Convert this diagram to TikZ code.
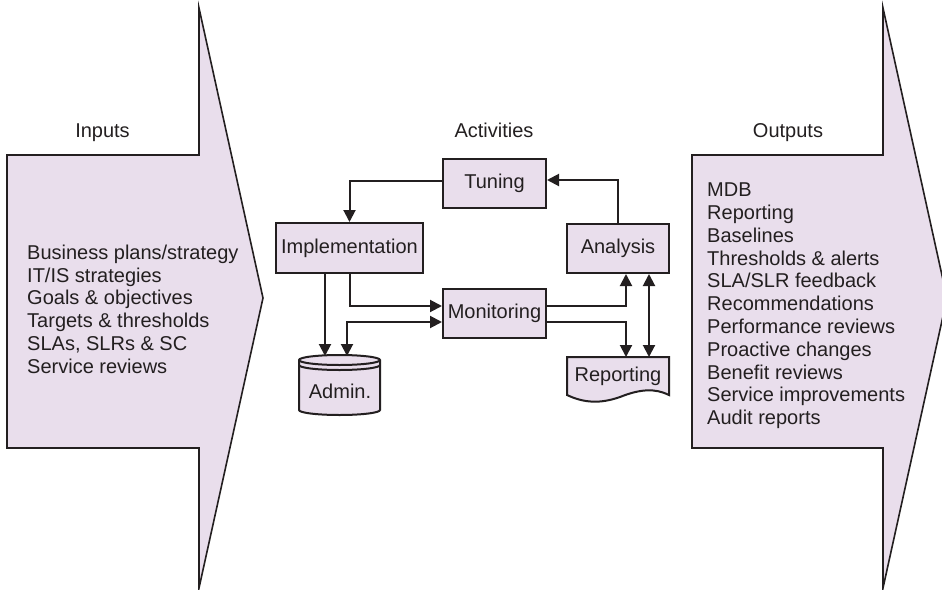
\documentclass[tikz,border=0pt]{standalone}
\usepackage{fontspec}
\setmainfont{Liberation Sans}
\usetikzlibrary{arrows.meta}
\definecolor{lav}{RGB}{233,222,236}
\definecolor{ink}{RGB}{35,31,32}
\begin{document}
\begin{tikzpicture}[x=1pt,y=-1pt,
  font=\fontsize{20}{22.8}\selectfont, text=ink,
  bigarrow/.style={draw=ink, fill=lav, line width=1.6pt, line join=miter},
  shapeline/.style={draw=ink, fill=lav, line width=2pt},
  boxnode/.style={draw=ink, fill=lav, line width=2pt, inner sep=0pt},
  conn/.style={draw=ink, line width=2pt},
  arr/.style={conn, -{Triangle[length=12pt,width=12pt]}},
  darr/.style={conn, {Triangle[length=12pt,width=12pt]}-{Triangle[length=12pt,width=12pt]}},
  label/.style={inner sep=0pt, anchor=base},
  listtext/.style={inner sep=0pt, anchor=north west, align=left}]
\clip (0,0) rectangle (942,589);

% big input / output arrows
\path[bigarrow] (7,155) -- (199,155) -- (199,8) -- (263,298) -- (199,588) -- (199,448) -- (7,448) -- cycle;
\path[bigarrow] (692,155) -- (883,155) -- (883,8) -- (947,298) -- (883,588) -- (883,448) -- (692,448) -- cycle;

\node[label] (inputs) at (102.5,137) {Inputs};
\node[label] (activities) at (494,137) {Activities};
\node[label] (outputs) at (788,137) {Outputs};

\node[listtext] (inlist) at (27,244.7) {Business plans/strategy\\IT/IS strategies\\Goals \& objectives\\Targets \& thresholds\\SLAs, SLRs \& SC\\Service reviews};
\node[listtext] (outlist) at (707,182.7) {MDB\\Reporting\\Baselines\\Thresholds \& alerts\\SLA/SLR feedback\\Recommendations\\Performance reviews\\Proactive changes\\Benefit reviews\\Service improvements\\Audit reports};

% activity boxes
\node[boxnode, minimum width=103pt, minimum height=49pt] (tuning) at (494.5,183.5) {Tuning};
\node[boxnode, minimum width=147pt, minimum height=50pt] (implementation) at (349.5,248) {Implementation};
\node[boxnode, minimum width=102pt, minimum height=49pt] (analysis) at (618,248.5) {Analysis};
\node[boxnode, minimum width=103pt, minimum height=49pt] (monitoring) at (494.5,313.5) {Monitoring};

% Admin cylinder
\path[shapeline] (299,360) -- (299,410) arc[start angle=180, end angle=360, x radius=40.5pt, y radius=5pt]
  -- (380,360) arc[start angle=0, end angle=180, x radius=40.5pt, y radius=5pt] -- cycle;
\draw[ink, line width=2pt] (299,360) arc[start angle=180, end angle=360, x radius=40.5pt, y radius=5pt];
\draw[ink, line width=2pt] (299,365) arc[start angle=180, end angle=360, x radius=40.5pt, y radius=5pt];
\node[inner sep=0pt] (admin) at (340,391) {Admin.};
\coordinate (adminL) at (325,356);
\coordinate (adminR) at (347,356);

% Reporting document
\path[shapeline] (567,357) -- (669,357) -- (669,395)
  .. controls (655,388) and (640,389) .. (620,397)
  .. controls (600,404) and (584,403) .. (567,395) -- cycle;
\node[inner sep=0pt] (reporting) at (618,376) {Reporting};
\coordinate (repA) at (626,357);
\coordinate (repB) at (649,357);

% connectors
\draw[arr] ([yshift=2.5pt]tuning.west) -| (implementation.north);
\draw[arr] (analysis.north) |- ([yshift=3.5pt]tuning.east);
\draw[arr] (implementation.south -| adminL) -- (adminL);
\draw[arr] (implementation.south) |- ([yshift=7.5pt]monitoring.west);
\draw[darr] (adminR) |- ([yshift=-8.5pt]monitoring.west);
\draw[arr] ([yshift=7.5pt]monitoring.east) -| (analysis.south -| repA);
\draw[arr] ([yshift=-8.5pt]monitoring.east) -| (repA);
\draw[darr] (analysis.south -| repB) -- (repB);
\end{tikzpicture}
\end{document}
